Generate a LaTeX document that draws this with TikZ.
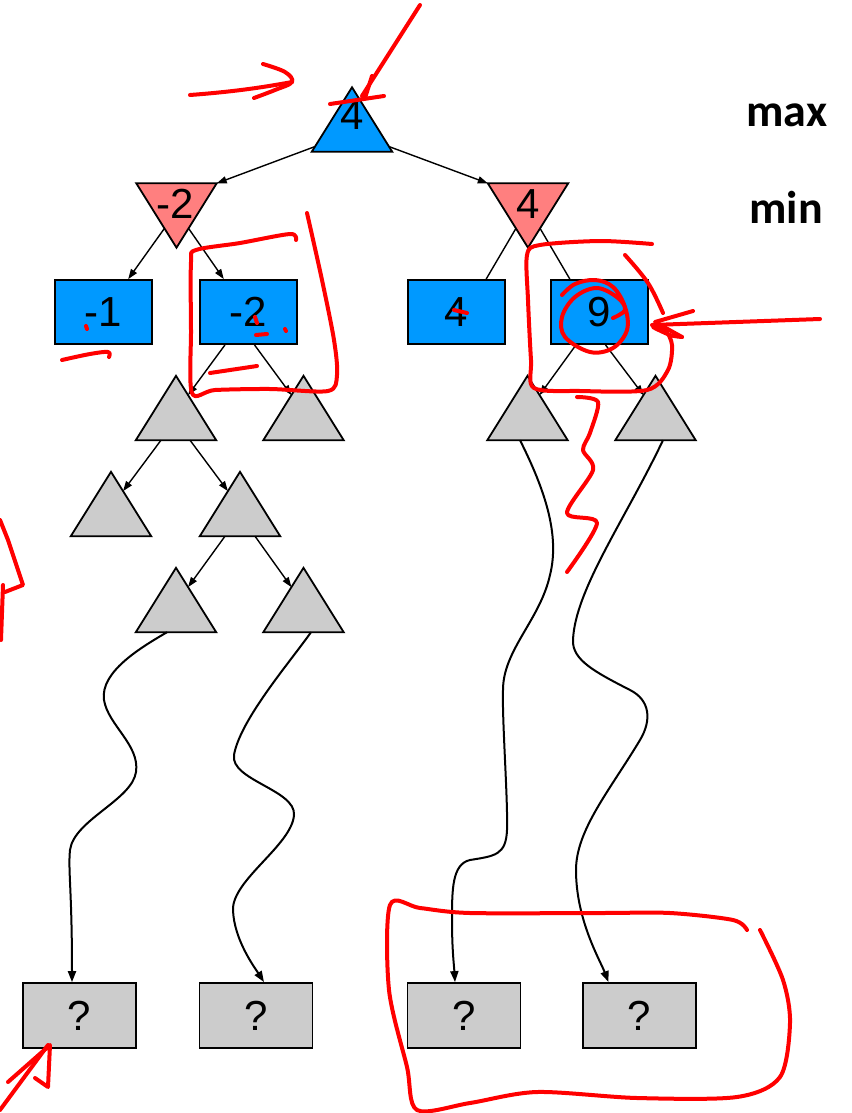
\documentclass[tikz,border=0pt]{standalone}
\usepackage{fontspec}
\setmainfont{Liberation Sans}
\newfontfamily\lblfont{Carlito}
\usetikzlibrary{calc,arrows.meta}
\definecolor{nodeblue}{HTML}{0099FF}
\definecolor{minred}{HTML}{FF7F7F}
\definecolor{leafgray}{HTML}{CCCCCC}
\definecolor{pen}{HTML}{FF0000}
\begin{document}
\begin{tikzpicture}[x=1pt,y=-1pt,
  tribox/.style={rectangle, inner sep=0pt, minimum width=80pt, minimum height=64pt},
  valbox/.style={rectangle, draw=black, line width=1.8pt, fill=nodeblue, inner sep=0pt,
    minimum width=97pt, minimum height=64pt, font=\fontsize{42}{48}\selectfont},
  qbox/.style={rectangle, draw=black, line width=1.8pt, fill=leafgray, inner sep=0pt,
    minimum width=113pt, minimum height=65pt, font=\fontsize{42}{48}\selectfont},
  val/.style={inner sep=0pt, font=\fontsize{42}{48}\selectfont},
  tridraw/.style={draw=black, line width=1.8pt},
  edge/.style={line width=1.4pt},
  arr/.style={edge, -{Triangle[length=10pt,width=7pt]}},
  wavy/.style={line width=2pt, -{Triangle[length=11pt,width=8pt]}},
  ink/.style={draw=pen, line width=4pt, line cap=round, line join=round},
  lvl/.style={font=\lblfont\bfseries\fontsize{46}{52}\selectfont, inner sep=0pt, anchor=base}
]
\useasboundingbox (0,0) rectangle (851,1113);

% triangle frames (invisible nodes)
\node[tribox] (root) at (352,119.5) {};
\node[tribox] (minL) at (176.5,215.5) {};
\node[tribox] (minR) at (528,215.5) {};
\node[tribox] (g1) at (176,408) {};
\node[tribox] (g2) at (303.5,408) {};
\node[tribox] (g3) at (527.5,408) {};
\node[tribox] (g4) at (655.5,408) {};
\node[tribox] (g5) at (111,504) {};
\node[tribox] (g6) at (240,504) {};
\node[tribox] (g7) at (176,600) {};
\node[tribox] (g8) at (303.5,600) {};

\filldraw[tridraw, fill=nodeblue] (root.north) -- (root.south east) -- (root.south west) -- cycle;
\foreach \n in {minL,minR}
  \filldraw[tridraw, fill=minred] (\n.north west) -- (\n.north east) -- (\n.south) -- cycle;
\foreach \n in {g1,g2,g3,g4,g5,g6,g7,g8}
  \filldraw[tridraw, fill=leafgray] (\n.north) -- (\n.south east) -- (\n.south west) -- cycle;

\node[val] (rootv) at (352,115) {4};
\node[val] (minLv) at (175,204) {-2};
\node[val] (minRv) at (528,204) {4};

% value boxes
\node[valbox] (b1) at (103.5,312) {-1};
\node[valbox] (b2) at (248.5,312) {-2};
\node[valbox] (b3) at (456.5,312) {4};
\node[valbox] (b4) at (599.5,312) {9};

% unknown leaves
\node[qbox] (q1) at (79.5,1015.5) {?};
\node[qbox] (q2) at (256,1015.5) {?};
\node[qbox] (q3) at (464,1015.5) {?};
\node[qbox] (q4) at (639.5,1015.5) {?};

% level labels
\node[lvl] (maxlbl) at (787,127) {max};
\node[lvl] (minlbl) at (786,223) {min};

% tree edges
\draw[arr] ($(root.north)!0.92!(root.south west)$) -- (minL.north east);
\draw[arr] ($(root.north)!0.92!(root.south east)$) -- (minR.north west);
\draw[arr] ($(minL.north west)!0.7!(minL.south)$) -- ($(b1.north east)!0.25!(b1.north west)$);
\draw[arr] ($(minL.north east)!0.7!(minL.south)$) -- ($(b2.north west)!0.25!(b2.north east)$);
\draw[edge] ($(minR.north west)!0.7!(minR.south)$) -- ($(b3.north east)!0.2!(b3.north west)$);
\draw[edge] ($(minR.north east)!0.7!(minR.south)$) -- ($(b4.north west)!0.2!(b4.north east)$);
\draw[arr] ($(b2.south)+(-23.5,0)$) -- ($(g1.north)!0.3!(g1.south east)$);
\draw[arr] ($(b2.south)+(6,0)$) -- ($(g2.north)!0.3!(g2.south west)$);
\draw[arr] ($(b4.south)+(-23.5,0)$) -- ($(g3.north)!0.3!(g3.south east)$);
\draw[arr] ($(b4.south)+(6,0)$) -- ($(g4.north)!0.3!(g4.south west)$);
\draw[arr] ($(g1.south)+(-15,0)$) -- ($(g5.north)!0.3!(g5.south east)$);
\draw[arr] ($(g1.south)+(14,0)$) -- ($(g6.north)!0.3!(g6.south west)$);
\draw[arr] ($(g6.south)+(-15,0)$) -- ($(g7.north)!0.3!(g7.south east)$);
\draw[arr] ($(g6.south)+(15,0)$) -- ($(g8.north)!0.3!(g8.south west)$);

% long wavy paths
\coordinate (c1s) at ($(g7.south)+(-9,0)$);
\coordinate (c1e) at ($(q1.north)+(-7.5,0)$);
\coordinate (c2s) at ($(g8.south)+(7.5,0)$);
\coordinate (c2e) at ($(q2.north)+(8,0)$);
\coordinate (c3s) at ($(g3.south)+(-7.5,0)$);
\coordinate (c3e) at ($(q3.north)+(-9,0)$);
\coordinate (c4s) at ($(g4.south)+(7.5,0)$);
\coordinate (c4e) at ($(q4.north)+(-31,0)$);

\draw[wavy] (c1s) .. controls (140,648) and (100,672) .. (104,700)
  .. controls (108,725) and (140,745) .. (136,772)
  .. controls (132,800) and (74,820) .. (70,850)
  .. controls (68,870) and (72,890) .. (c1e);
\draw[wavy] (c2s) .. controls (290,662) and (240,720) .. (234,755)
  .. controls (230,780) and (296,790) .. (294,815)
  .. controls (292,845) and (232,880) .. (233,910)
  .. controls (234,940) and (255,968) .. (c2e);
\draw[wavy] (c3s) .. controls (545,490) and (560,535) .. (550,575)
  .. controls (540,620) and (503,650) .. (503,690)
  .. controls (502,720) and (508,800) .. (507,830)
  .. controls (506,855) and (495,856) .. (470,860)
  .. controls (452,864) and (452,890) .. (452,920)
  .. controls (452,950) and (454,965) .. (c3e);
\draw[wavy] (c4s) .. controls (625,520) and (575,590) .. (573,640)
  .. controls (572,660) and (595,672) .. (630,690)
  .. controls (650,700) and (652,720) .. (640,740)
  .. controls (610,790) and (576,830) .. (576,870)
  .. controls (576,920) and (600,960) .. (c4e);

% red hand annotations
\draw[ink] (190,95) .. controls (230,92) and (260,88) .. (292,82);
\draw[ink] plot[smooth, tension=0.6] coordinates {(263,64) (285,72) (292,82) (275,90) (254,98)};
\draw[ink] (420,5) -- (362,96);
\draw[ink] (330,104) -- (384,96);
\draw[ink] (372,76) -- (365,98);
\draw[ink] plot[smooth, tension=0.5] coordinates {(307,213) (322,280) (334,340) (337,375) (328,391) (270,389) (215,390) (192,393) (191,330) (191,262) (196,250) (240,243) (290,234) (296,240)};
\draw[ink] (210,373) -- (257,366);
\draw[ink] (255,317) -- (257,323);
\draw[ink] (256,335) -- (267,334);
\draw[ink] (285,329) -- (286,331);
\draw[ink] (86,326) -- (87,329);
\draw[ink] plot[smooth, tension=0.6] coordinates {(62,360) (90,354) (108,352) (109,357)};
\draw[ink] (454,310) -- (467,313);
\draw[ink] plot[smooth, tension=0.6] coordinates {(562,295) (575,284) (595,280) (613,287) (625,307) (627,330) (613,348) (590,352) (565,337) (562,317) (575,297) (597,288) (618,298) (625,310) (613,318)};
\draw[ink] plot[smooth, tension=0.5] coordinates {(652,244) (600,241) (540,245) (527,255) (528,300) (531,360) (534,388) (580,391) (647,390) (668,370) (672,345) (665,330) (653,327) (670,335) (682,337)};
\draw[ink] plot[smooth, tension=0.6] coordinates {(625,255) (648,283) (663,313)};
\draw[ink] (820,319) -- (652,325);
\draw[ink] (693,311) -- (655,322) -- (682,337);
\draw[ink] plot[smooth, tension=0.5] coordinates {(577,397) (598,402) (590,433) (583,450) (593,470) (567,513) (597,523) (567,572)};
\draw[ink] (0,520) -- (8,540) -- (23,585) -- (5,592);
\draw[ink] (3,585) -- (1,640);
\draw[ink] plot[smooth, tension=0.5] coordinates {(747,930) (733,920) (670,913) (600,913) (470,913) (420,908) (390,905) (389,990) (407,1067) (417,1110) (470,1103) (537,1092) (637,1098) (737,1097) (780,1077) (790,1023) (783,980) (760,930)};
\draw[ink] (0,1110) -- (48,1045);
\draw[ink] (8,1082) -- (50,1045) -- (48,1087) -- (35,1078);
\end{tikzpicture}
\end{document}
